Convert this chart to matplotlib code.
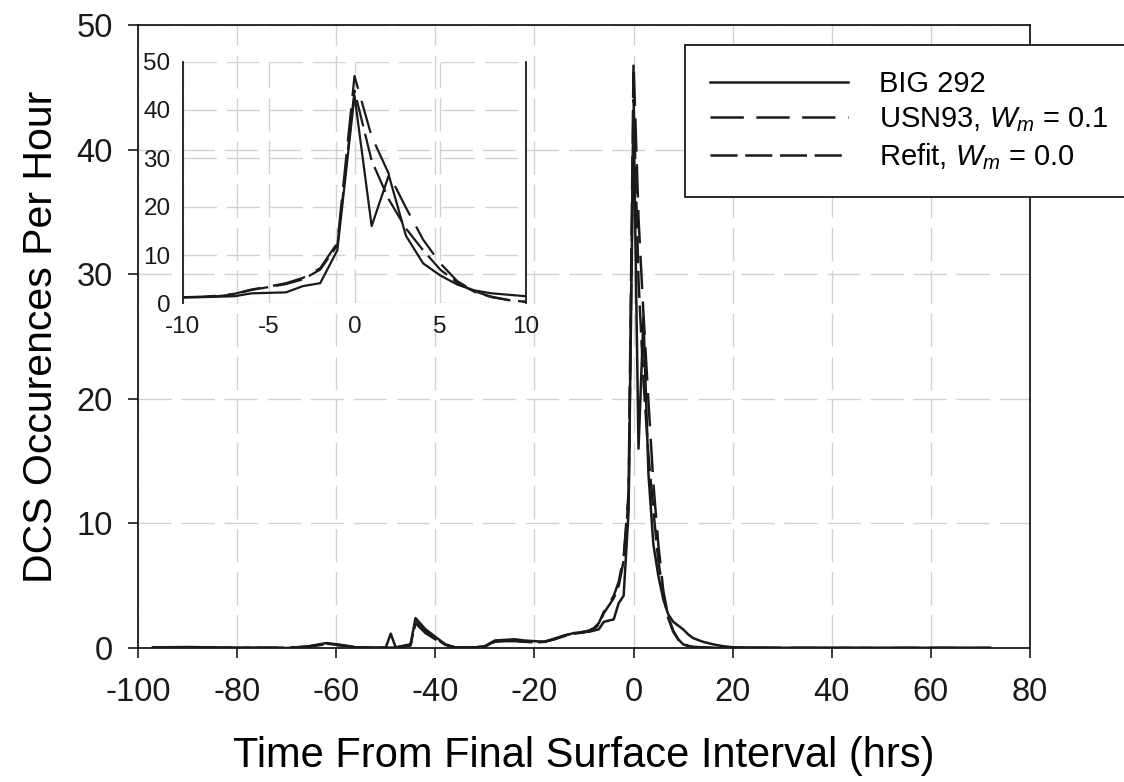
import matplotlib
matplotlib.use("Agg")
import matplotlib.pyplot as plt

# === Data ===
hours = [-97, -90, -80, -70, -66, -62, -59, -56, -52, -50,
         -49, -48, -45, -44, -42, -40, -38, -36, -32, -30,
         -28, -26, -24, -22, -20, -18, -16, -14, -12,
         -10, -9, -8, -7, -6, -5, -4, -3, -2, -1, 0,
         1, 2, 3, 4, 5, 6, 7, 8, 9, 10,
         11, 12, 14, 16, 18, 20, 25, 30, 40, 50, 60, 72]

big292 = [0.05, 0.08, 0.02, 0.0, 0.1, 0.4, 0.25, 0.05, 0.02, 0.05,
          1.15, 0.05, 0.3, 2.4, 1.5, 0.9, 0.3, 0.05, 0.05, 0.15,
          0.6, 0.65, 0.7, 0.6, 0.55, 0.5, 0.7, 1.0, 1.2,
          1.3, 1.3, 1.4, 1.5, 2.1, 2.2, 2.3, 3.6, 4.2, 11.0, 43.0,
          16.0, 26.5, 14.0, 8.3, 5.8, 3.9, 2.7, 2.1, 1.8, 1.5,
          1.1, 0.8, 0.5, 0.3, 0.15, 0.06, 0.03, 0.02, 0.02, 0.01, 0.02, 0.01]

usn93 = [0.02, 0.03, 0.02, 0.02, 0.1, 0.3, 0.2, 0.05, 0.03, 0.03,
         0.03, 0.03, 0.2, 2.0, 1.2, 0.7, 0.2, 0.05, 0.05, 0.1,
         0.5, 0.55, 0.55, 0.5, 0.45, 0.5, 0.75, 1.0, 1.2,
         1.3, 1.4, 1.6, 2.0, 2.9, 3.5, 4.2, 5.3, 7.3, 12.5, 47.0,
         34.5, 26.8, 19.8, 13.2, 8.3, 4.6, 2.5, 1.4, 0.7, 0.3,
         0.15, 0.08, 0.04, 0.02, 0.01, 0.01, 0.01, 0.0, 0.0, 0.0, 0.0, 0.0]

refit = [0.02, 0.03, 0.02, 0.02, 0.1, 0.35, 0.22, 0.05, 0.03, 0.03,
         0.03, 0.03, 0.25, 2.1, 1.3, 0.8, 0.25, 0.05, 0.05, 0.1,
         0.55, 0.6, 0.6, 0.5, 0.45, 0.5, 0.7, 0.95, 1.15,
         1.25, 1.35, 1.5, 1.9, 2.8, 3.4, 4.0, 5.0, 7.0, 12.0, 44.0,
         29.5, 21.5, 15.5, 11.0, 7.0, 4.3, 2.4, 1.3, 0.7, 0.35,
         0.18, 0.1, 0.05, 0.02, 0.01, 0.01, 0.01, 0.0, 0.0, 0.0, 0.0, 0.0]

labels = ["BIG 292", "USN93, $W_m$ = 0.1", "Refit, $W_m$ = 0.0"]

# === Styles ===
plt.rcParams["font.family"] = ["Liberation Sans", "DejaVu Sans"]
plt.rcParams["mathtext.fontset"] = "custom"
plt.rcParams["mathtext.rm"] = "Liberation Sans"
plt.rcParams["mathtext.it"] = "Liberation Sans:italic"
plt.rcParams["lines.scale_dashes"] = False
plt.rcParams["axes.unicode_minus"] = False

INK = "#1a1a1a"
GRID = dict(color="#d2d2d2", linewidth=1.0, linestyle=(0, (24, 7)))
STYLES = [
    dict(linestyle="-"),
    dict(linestyle=(0, (24, 9))),
    dict(linestyle=(0, (19.5, 5.5))),
]

fig = plt.figure(figsize=(11.24, 7.82), dpi=100)
ax = fig.add_axes([138 / 1124, 1 - 648 / 782, 892 / 1124, 623 / 782])

handles = []
for ys, st, lab in zip([big292, usn93, refit], STYLES, labels):
    h, = ax.plot(hours, ys, color=INK, linewidth=1.8, label=lab, **st)
    handles.append(h)

ax.set_xlim(-100, 80)
ax.set_ylim(0, 50)
ax.set_xticks(range(-100, 81, 20))
ax.set_yticks(range(0, 51, 10))
ax.grid(True, **GRID)
ax.set_axisbelow(True)
ax.tick_params(direction="out", length=7, width=1.2, labelsize=23.5, colors=INK)
ax.tick_params(axis="x", pad=14)
ax.tick_params(axis="y", pad=11)
for sp in ax.spines.values():
    sp.set_linewidth(1.3)
    sp.set_color(INK)
ax.set_xlabel("Time From Final Surface Interval (hrs)", fontsize=30, labelpad=20)
ax.set_ylabel("DCS Occurences Per Hour", fontsize=29.5, labelpad=12)

# === Inset: zoom on the final surface interval ===
ins = fig.add_axes([183 / 1124, 1 - 303.5 / 782, 343 / 1124, 242 / 782])
ins.patch.set_facecolor("none")
for ys, st in zip([big292, usn93, refit], STYLES):
    ins.plot(hours, ys, color=INK, linewidth=1.6, **st)
ins.set_xlim(-10, 10)
ins.set_ylim(0, 50)
ins.set_xticks(range(-10, 11, 5))
ins.set_yticks(range(0, 51, 10))
ins.grid(True, **GRID)
ins.tick_params(length=0, labelsize=17.5, pad=9, colors=INK)
ins.spines["top"].set_visible(False)
ins.spines["bottom"].set_visible(False)
for side in ("left", "right"):
    ins.spines[side].set_linewidth(1.3)
    ins.spines[side].set_color(INK)

# === Legend (runs off the right edge like the original) ===
leg = fig.legend(handles=handles, loc="upper left",
                 bbox_to_anchor=(685 / 1124, 1 - 45 / 782),
                 fontsize=21, handlelength=4.75, handletextpad=1.05,
                 labelspacing=0.25, borderpad=0.85, borderaxespad=0,
                 frameon=True, fancybox=False, framealpha=1)
leg.get_frame().set_edgecolor(INK)
leg.get_frame().set_linewidth(1.3)

fig.savefig("out.png", dpi=100)
